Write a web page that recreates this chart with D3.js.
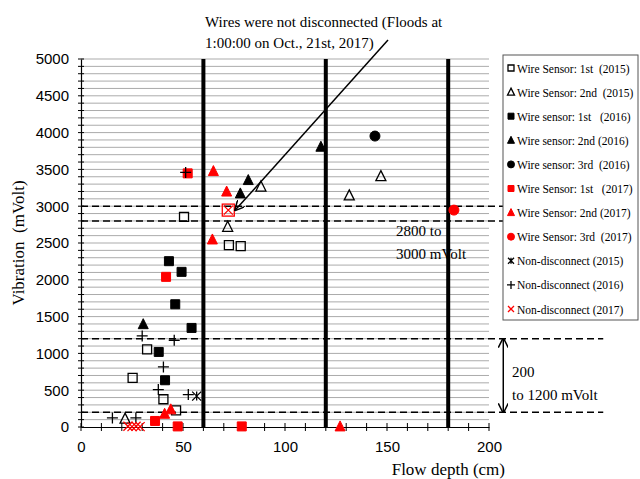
<!DOCTYPE html>
<html>
<head>
<meta charset="utf-8">
<script src="https://cdn.jsdelivr.net/npm/d3@7"></script>
<style>
  body { margin: 0; background: #fff; }
  svg { font-family: "Liberation Serif", "Times New Roman", serif; }
</style>
</head>
<body>
<div id="chart"></div>
<script>
// values: [flow depth (cm), vibration (mVolt)]
const wire1st2015 = [[50.5, 2855], [72.5, 2470], [78.3, 2457], [32.4, 1056], [25.3, 667], [40.4, 377], [46.6, 227]];
const wire2nd2015 = [[88.2, 3267], [131.5, 3147], [147, 3409], [71.9, 2720], [21.6, 114]];
const wire1st2016 = [[43.1, 2253], [49.3, 2108], [46.2, 1668], [54.2, 1346], [38.1, 1020], [41.2, 635]];
const wire2nd2016 = [[30.5, 1397], [82, 3355], [78.1, 3174], [117.6, 3808]];
const wire3rd2016 = [[144.1, 3953]];
const wire1st2017 = [[52.3, 3446], [41.7, 2040], [36.3, 82], [47.4, 8], [78.8, 8]];
const wire2nd2017 = [[64.9, 3477], [71.4, 3199], [64.4, 2548], [41, 180], [44, 240], [127, 8]];
const wire3rd2017 = [[182.8, 2947]];
const nonDisc2015 = [[56.7, 420]];
const nonDisc2016 = [[51.3, 3459], [30, 1238], [45.7, 1179], [40.4, 816], [37.9, 508], [52.6, 440], [15.4, 123], [26.9, 123]];
const nonDisc2017 = [[72.2, 2947], [23, 10], [25, 5], [27, 10], [29, 5]];
const highlightPoint = [72.2, 2947];

const xTicks = [0, 50, 100, 150, 200];
const yTicks = [0, 500, 1000, 1500, 2000, 2500, 3000, 3500, 4000, 4500, 5000];
const sectionLines = [60, 120, 180];
const rangeLines = [3000, 2800, 1200, 200];

const series = [
  { label: "Wire Sensor: 1st  (2015)", data: wire1st2015, shape: "square", fill: "none", stroke: "#000" },
  { label: "Wire Sensor: 2nd  (2015)", data: wire2nd2015, shape: "triangle", fill: "none", stroke: "#000" },
  { label: "Wire sensor: 1st   (2016)", data: wire1st2016, shape: "square", fill: "#000", stroke: "#000" },
  { label: "Wire sensor: 2nd (2016)", data: wire2nd2016, shape: "triangle", fill: "#000", stroke: "#000" },
  { label: "Wire sensor: 3rd  (2016)", data: wire3rd2016, shape: "circle", fill: "#000", stroke: "#000" },
  { label: "Wire Sensor: 1st   (2017)", data: wire1st2017, shape: "square", fill: "#f00", stroke: "#f00" },
  { label: "Wire Sensor: 2nd (2017)", data: wire2nd2017, shape: "triangle", fill: "#f00", stroke: "#f00" },
  { label: "Wire Sensor: 3rd  (2017)", data: wire3rd2017, shape: "circle", fill: "#f00", stroke: "#f00" },
  { label: "Non-disconnect (2015)", data: nonDisc2015, shape: "star", fill: "none", stroke: "#000" },
  { label: "Non-disconnect (2016)", data: nonDisc2016, shape: "plus", fill: "none", stroke: "#000" },
  { label: "Non-disconnect (2017)", data: nonDisc2017, shape: "cross", fill: "none", stroke: "#f00" }
];

const W = 640, H = 479;
const margin = { top: 59, left: 81, right: 151, bottom: 52 };

const svg = d3.select("#chart").append("svg")
  .attr("width", W)
  .attr("height", H);

const x = d3.scaleLinear().domain([0, 200]).range([margin.left, W - margin.right]);
const y = d3.scaleLinear().domain([0, 5000]).range([H - margin.bottom, margin.top]);

// gray grid every 100 mVolt
svg.append("g")
  .selectAll("line")
  .data(d3.range(100, 5001, 100))
  .enter().append("line")
    .attr("x1", x(0))
    .attr("x2", x(200))
    .attr("y1", d => y(d))
    .attr("y2", d => y(d))
    .attr("stroke", "#ababab")
    .attr("stroke-width", 1);

// y axis
const yAxis = svg.append("g")
  .attr("transform", `translate(${x(0)}, 0)`)
  .call(d3.axisLeft(y).tickValues(yTicks).tickFormat(d3.format("d")).tickSize(0).tickPadding(12))
  .call(g => g.select(".domain").attr("stroke", "#000").attr("stroke-width", 1.2));
yAxis.selectAll("text").style("font-size", "15px").attr("fill", "#000");
yAxis.selectAll(".minor")
  .data(d3.range(0, 5001, 100))
  .enter().append("line")
    .attr("x1", -3).attr("x2", 3)
    .attr("y1", d => y(d)).attr("y2", d => y(d))
    .attr("stroke", "#000");

// x axis
const xAxis = svg.append("g")
  .attr("transform", `translate(0, ${y(0)})`)
  .call(d3.axisBottom(x).tickValues(xTicks).tickSize(0).tickPadding(14))
  .call(g => g.select(".domain").attr("stroke", "#000").attr("stroke-width", 1.2));
xAxis.selectAll("text").style("font-size", "15px").attr("fill", "#000");
xAxis.selectAll(".minor")
  .data(d3.range(0, 201, 10))
  .enter().append("line")
    .attr("x1", d => x(d)).attr("x2", d => x(d))
    .attr("y1", -4).attr("y2", 4)
    .attr("stroke", "#000");

// thick section lines
svg.append("g")
  .selectAll("line")
  .data(sectionLines)
  .enter().append("line")
    .attr("x1", d => x(d)).attr("x2", d => x(d))
    .attr("y1", y(0)).attr("y2", y(5000))
    .attr("stroke", "#000")
    .attr("stroke-width", 4);

// dashed range lines, running past the plot
svg.append("g")
  .selectAll("line")
  .data(rangeLines)
  .enter().append("line")
    .attr("x1", x(0)).attr("x2", x(256))
    .attr("y1", d => y(d)).attr("y2", d => y(d))
    .attr("stroke", "#000")
    .attr("stroke-width", 1.5)
    .attr("stroke-dasharray", "7,4");

// axis titles
svg.append("text")
  .attr("transform", `translate(24, ${(y(0) + y(5000)) / 2}) rotate(-90)`)
  .attr("text-anchor", "middle")
  .style("font-size", "17px")
  .style("white-space", "pre")
  .text("Vibration  (mVolt)");
svg.append("text")
  .attr("x", x(200) + 16)
  .attr("y", 475)
  .attr("text-anchor", "end")
  .style("font-size", "17px")
  .text("Flow depth (cm)");

// markers
const markerPath = (shape, s) => {
  const h = s / 2;
  if (shape === "square") return `M${-h},${-h}H${h}V${h}H${-h}Z`;
  if (shape === "triangle") return `M0,${-h - 1}L${h + 0.5},${h}L${-h - 0.5},${h}Z`;
  if (shape === "plus") return `M${-h - 1},0H${h + 1}M0,${-h - 1}V${h + 1}`;
  if (shape === "cross") return `M${-h},${-h}L${h},${h}M${h},${-h}L${-h},${h}`;
  if (shape === "star") return `M${-h},${-h}L${h},${h}M${h},${-h}L${-h},${h}M0,${-h}V${h}`;
  return null;
};

const drawMarker = (g, shape, fill, stroke, s) => {
  if (shape === "circle") {
    g.append("circle").attr("r", s / 2 + 0.5).attr("fill", fill).attr("stroke", stroke);
  } else {
    const open = fill === "none";
    g.append("path")
      .attr("d", markerPath(shape, s))
      .attr("fill", fill)
      .attr("stroke", stroke)
      .attr("stroke-width", open ? 1.3 : 1);
  }
};

const points = svg.append("g");
series.forEach(sr => {
  sr.data.forEach(d => {
    const g = points.append("g").attr("transform", `translate(${x(d[0])}, ${y(d[1])})`);
    drawMarker(g, sr.shape, sr.fill, sr.stroke, 9);
  });
});

// red box round the flood point
points.append("rect")
  .attr("x", x(highlightPoint[0]) - 6)
  .attr("y", y(highlightPoint[1]) - 6)
  .attr("width", 12)
  .attr("height", 12)
  .attr("fill", "none")
  .attr("stroke", "#f00")
  .attr("stroke-width", 1.3);

// arrow markers
const defs = svg.append("defs");
defs.append("marker")
  .attr("id", "head")
  .attr("viewBox", "0 0 10 10")
  .attr("refX", 9).attr("refY", 5)
  .attr("markerWidth", 10).attr("markerHeight", 10)
  .attr("markerUnits", "userSpaceOnUse")
  .attr("orient", "auto-start-reverse")
  .append("path")
    .attr("d", "M0,0L10,5L0,10")
    .attr("fill", "none")
    .attr("stroke", "#000")
    .attr("stroke-width", 1.5);

// flood annotation
svg.append("line")
  .attr("x1", 388).attr("y1", 40)
  .attr("x2", x(highlightPoint[0]) + 7).attr("y2", y(highlightPoint[1]))
  .attr("stroke", "#000")
  .attr("stroke-width", 1.5)
  .attr("marker-end", "url(#head)");
const note = svg.append("text").style("font-size", "15px");
note.append("tspan").attr("x", 205).attr("y", 27).text("Wires were not disconnected (Floods at");
note.append("tspan").attr("x", 205).attr("y", 48).text("1:00:00 on Oct., 21st, 2017)");

const note2 = svg.append("text").style("font-size", "15px");
note2.append("tspan").attr("x", 396).attr("y", 236).text("2800 to");
note2.append("tspan").attr("x", 396).attr("y", 259).text("3000 mVolt");

// 200 to 1200 double arrow
svg.append("line")
  .attr("x1", x(207)).attr("x2", x(207))
  .attr("y1", y(1200)).attr("y2", y(200))
  .attr("stroke", "#000")
  .attr("stroke-width", 1.5)
  .attr("marker-start", "url(#head)")
  .attr("marker-end", "url(#head)");
const note3 = svg.append("text").style("font-size", "15px");
note3.append("tspan").attr("x", 512).attr("y", 377).text("200");
note3.append("tspan").attr("x", 512).attr("y", 400).text("to 1200 mVolt");

// legend
const legend = svg.append("g").attr("transform", "translate(503, 55)");
legend.append("rect")
  .attr("width", 135)
  .attr("height", 265)
  .attr("fill", "#fff")
  .attr("stroke", "#555")
  .attr("stroke-width", 1);
const item = legend.selectAll(".item")
  .data(series)
  .enter().append("g")
    .attr("class", "item")
    .attr("transform", (d, i) => `translate(0, ${13 + i * 24.1})`);
item.each(function (d) {
  const g = d3.select(this).append("g").attr("transform", "translate(8, 0)");
  drawMarker(g, d.shape, d.fill, d.stroke, 6);
});
item.append("text")
  .attr("x", 14)
  .attr("y", 4.5)
  .style("font-size", "11.5px")
  .style("white-space", "pre")
  .text(d => d.label);
</script>
</body>
</html>
